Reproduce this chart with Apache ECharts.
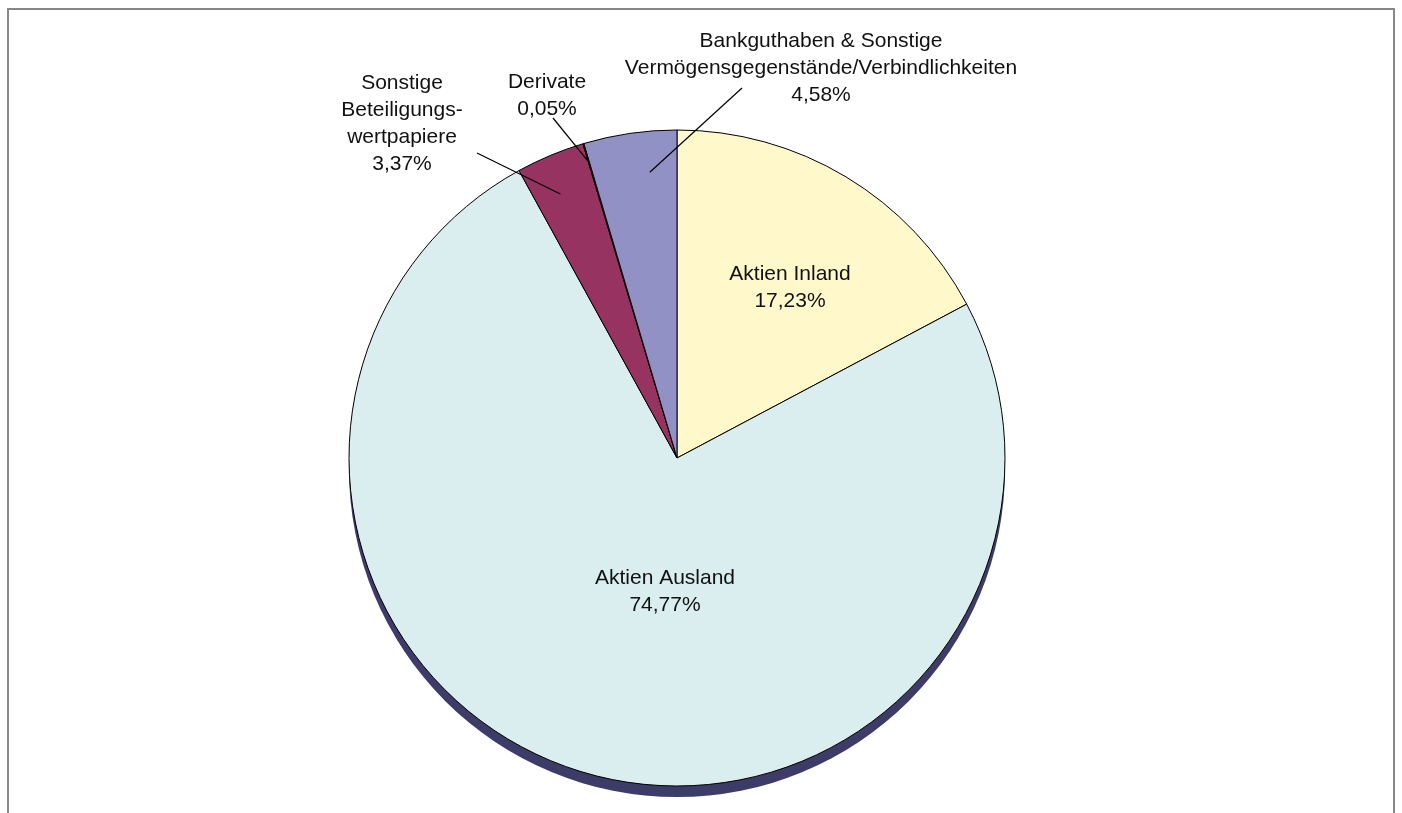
<!DOCTYPE html>
<html>
<head>
<meta charset="utf-8">
<script src="https://cdn.jsdelivr.net/npm/echarts@6/dist/echarts.min.js"></script>
<style>
html,body{margin:0;padding:0;background:#fff;width:1402px;height:813px;overflow:hidden;}
#frame{position:absolute;left:7px;top:8px;width:1388px;height:900px;border:2px solid #878787;box-sizing:border-box;}
#chart{position:absolute;left:0;top:0;width:1402px;height:813px;}
</style>
</head>
<body>
<div id="frame"></div>
<div id="chart"></div>
<script>
const categories = ['Aktien Inland', 'Aktien Ausland', 'Sonstige Beteiligungswertpapiere', 'Derivate', 'Bankguthaben & Sonstige Vermögensgegenstände/Verbindlichkeiten'];
const labelNames = ['Aktien Inland', 'Aktien Ausland', 'Sonstige\nBeteiligungs-\nwertpapiere', 'Derivate', 'Bankguthaben & Sonstige\nVermögensgegenstände/Verbindlichkeiten'];
const values = [17.23, 74.77, 3.37, 0.05, 4.58];
const colors = ['#FFF8CA', '#DAEEF0', '#963360', '#660066', '#9191C6'];
const insideLabel = [true, true, false, false, false];

// layout only: label anchor positions, leader line end points, and where in the slice the line starts
const labelPos = [[790, 288], [665, 592], [402, 124], [547, 96], [821, 68]];
const lineEnd = [null, null, [477, 153], [553, 118], [742, 88]];
const lineStartInSlice = [null, null, [0.41, 0.88], [0.5, 0.94], [0.67, 0.875]];

const center = [677, 458];
const radius = 328;
const chart = echarts.init(document.getElementById('chart'), null, {renderer: 'canvas'});

const total = values.reduce((a, b) => a + b, 0);
function slicePoint(i, angleFrac, radiusFrac) {
  let cum = 0;
  for (let k = 0; k < i; k++) cum += values[k];
  const frac = (cum + values[i] * angleFrac) / total;
  const a = (90 - 360 * frac) * Math.PI / 180;
  return [center[0] + radius * radiusFrac * Math.cos(a), center[1] - radius * radiusFrac * Math.sin(a)];
}

const sliceData = categories.map((c, i) => ({
  name: c,
  value: values[i],
  itemStyle: {color: colors[i]}
}));

const labelData = categories.map((c, i) => ({
  name: c,
  value: values[i],
  label: {position: insideLabel[i] ? 'inside' : 'outside'},
  labelLine: {show: !insideLabel[i]}
}));

chart.setOption({
  animation: false,
  series: [
    {
      type: 'pie',
      silent: true,
      z: 1,
      center: [center[0], center[1] + 11],
      radius: radius,
      startAngle: 90,
      label: {show: false},
      labelLine: {show: false},
      itemStyle: {color: '#3D3B68', borderWidth: 0},
      data: [{name: 'shadow', value: 1}]
    },
    {
      type: 'pie',
      z: 2,
      center: center,
      radius: radius,
      startAngle: 90,
      clockwise: true,
      itemStyle: {borderColor: '#000', borderWidth: 1},
      emphasis: {disabled: true},
      label: {show: false},
      labelLine: {show: false},
      data: sliceData
    },
    {
      type: 'pie',
      z: 3,
      silent: true,
      center: center,
      radius: radius,
      startAngle: 90,
      clockwise: true,
      avoidLabelOverlap: false,
      minShowLabelAngle: 0,
      itemStyle: {color: 'rgba(0,0,0,0)', borderWidth: 0},
      emphasis: {disabled: true},
      label: {
        show: true,
        color: '#111',
        fontFamily: 'Liberation Sans, Arial, Helvetica, sans-serif',
        fontSize: 21,
        lineHeight: 27,
        align: 'center',
        formatter: p => labelNames[p.dataIndex] + '\n' + values[p.dataIndex].toFixed(2).replace('.', ',') + '%'
      },
      labelLine: {
        show: true,
        length: 20,
        length2: 0,
        lineStyle: {color: '#000', width: 1.2}
      },
      labelLayout: function (params) {
        const i = params.dataIndex;
        const p = labelPos[i];
        const out = {x: p[0], y: p[1], align: 'center', verticalAlign: 'middle', moveOverlap: false};
        if (lineEnd[i]) {
          const s = slicePoint(i, lineStartInSlice[i][0], lineStartInSlice[i][1]);
          out.labelLinePoints = [s, s, lineEnd[i]];
        }
        return out;
      },
      data: labelData
    }
  ]
});
</script>
</body>
</html>
